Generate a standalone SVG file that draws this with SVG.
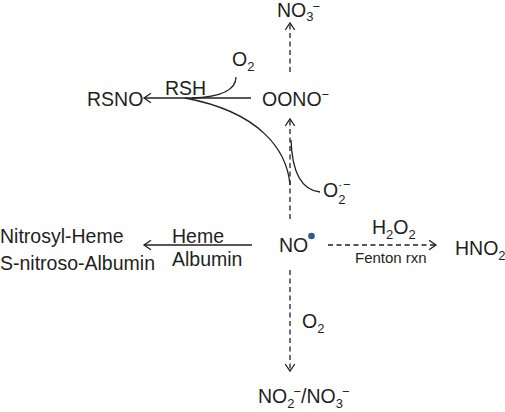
<svg xmlns="http://www.w3.org/2000/svg" width="505" height="412" viewBox="0 0 505 412">
<style>
text{font-family:"Liberation Sans",Arial,sans-serif;font-size:19.5px;fill:#231f20}
.s{font-size:13px}
.f{font-size:15px}
.ln{fill:none;stroke:#231f20;stroke-width:1.3}
.d{stroke-dasharray:5 3.5}
</style>
<defs>
<marker id="ah" viewBox="-9 -6 11 12" refX="0" refY="0" markerWidth="11" markerHeight="12" markerUnits="userSpaceOnUse" orient="auto">
<path d="M-7,-4.8 L0,0 L-7,4.8" fill="none" stroke="#231f20" stroke-width="1.3" stroke-dasharray="none"/>
</marker>
</defs>
<rect width="505" height="412" fill="#ffffff"/>
<g id="connectors">
<path class="ln d" d="M290,72 L290,23" marker-end="url(#ah)"/>
<path class="ln d" d="M290,219 L290,119" marker-end="url(#ah)"/>
<path class="ln d" d="M290,270 L290,371" marker-end="url(#ah)"/>
<path class="ln d" d="M328,245 L436,245" marker-end="url(#ah)"/>
<path class="ln" d="M252,245 L144,245" marker-end="url(#ah)"/>
<path class="ln" d="M251,98 L144,98" marker-end="url(#ah)"/>
<path class="ln" d="M290,185 C287,150 260,112 185,98"/>
<path class="ln" d="M236,77 C236,90 222,97 192,98"/>
<path class="ln" d="M320,192 C300,190 292,170 291,140"/>
</g>
<g id="no3-top"><text x="277" y="17">NO<tspan class="s" dy="4">3</tspan><tspan class="s" dx="-1" dy="-10">−</tspan></text></g>
<g id="o2-top"><text x="232" y="66">O<tspan class="s" dy="5">2</tspan></text></g>
<g id="rsh"><text x="165" y="95">RSH</text></g>
<g id="rsno"><text x="87" y="106">RSNO</text></g>
<g id="oono"><text x="262" y="106">OONO<tspan class="s" dy="-7">−</tspan></text></g>
<g id="superoxide"><text x="323" y="197">O<tspan class="s" dy="7">2</tspan><tspan class="s" x="338" dy="-15">·</tspan><tspan class="s" x="343">−</tspan></text></g>
<g id="nitrosyl"><text x="0" y="243">Nitrosyl-Heme</text><text x="0" y="270">S-nitroso-Albumin</text></g>
<g id="heme-label"><text x="172" y="243">Heme</text><text x="172" y="266">Albumin</text></g>
<g id="no"><text x="279" y="252">NO</text><circle cx="311.5" cy="236" r="3.3" fill="#2d5b8a"/></g>
<g id="h2o2"><text x="372" y="234">H<tspan class="s" dy="5">2</tspan><tspan dy="-5">O</tspan><tspan class="s" dy="5">2</tspan></text><text class="f" x="355" y="263">Fenton rxn</text></g>
<g id="hno2"><text x="455" y="255">HNO<tspan class="s" dy="5">2</tspan></text></g>
<g id="o2-bottom"><text x="302" y="328">O<tspan class="s" dy="5">2</tspan></text></g>
<g id="no2-no3"><text x="258" y="403">NO<tspan class="s" dy="5">2</tspan><tspan class="s" dx="-1" dy="-12">−</tspan><tspan dy="7">/NO</tspan><tspan class="s" dy="5">3</tspan><tspan class="s" dx="-1" dy="-12">−</tspan></text></g>
</svg>
